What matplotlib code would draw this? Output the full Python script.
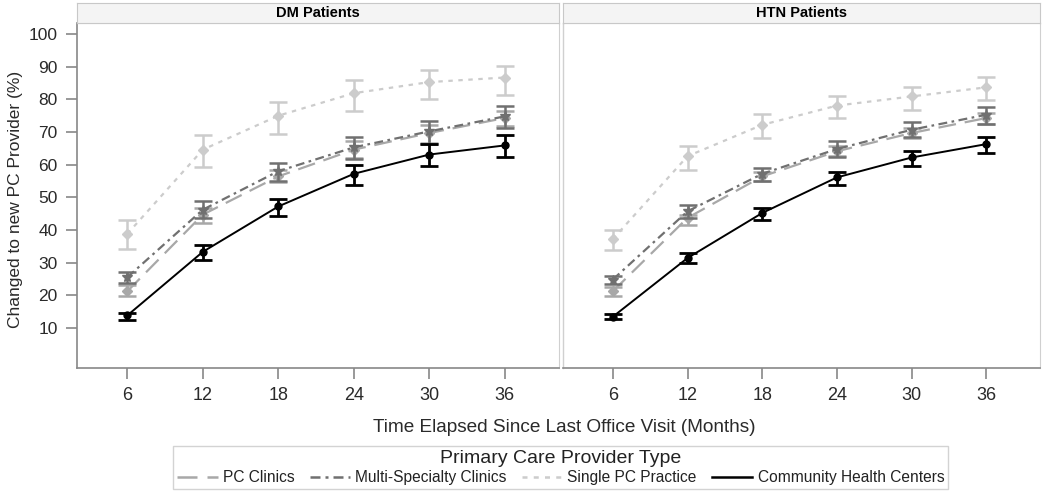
import numpy as np
import matplotlib.pyplot as plt
from matplotlib.lines import Line2D

# months since last visit
months = [6, 12, 18, 24, 30, 36]

# DM patients: estimate, lower, upper
dm_pc = [21.2, 44.7, 56.4, 64.6, 69.7, 74.3]
dm_pc_lo = [19.9, 42.1, 54.6, 62.0, 66.6, 71.7]
dm_pc_hi = [23.0, 46.7, 58.5, 67.1, 72.2, 76.3]
dm_multi = [25.5, 46.2, 58.0, 65.3, 70.2, 74.8]
dm_multi_lo = [23.6, 43.7, 54.9, 61.8, 66.4, 71.2]
dm_multi_hi = [27.1, 48.8, 60.5, 68.5, 73.3, 77.9]
dm_single = [38.8, 64.6, 75.0, 81.9, 85.3, 86.7]
dm_single_lo = [34.2, 59.2, 69.4, 76.4, 80.2, 81.3]
dm_single_hi = [42.9, 69.2, 79.3, 85.9, 89.1, 90.2]
dm_chc = [13.8, 33.3, 47.2, 57.2, 63.1, 65.9]
dm_chc_lo = [12.3, 30.7, 44.2, 53.7, 59.5, 62.3]
dm_chc_hi = [14.6, 35.5, 49.6, 60.0, 66.4, 69.2]

# HTN patients
htn_pc = [21.2, 43.7, 56.4, 64.1, 69.7, 74.3]
htn_pc_lo = [19.9, 41.6, 54.9, 62.8, 68.2, 72.6]
htn_pc_hi = [22.6, 44.7, 57.6, 65.6, 71.2, 75.8]
htn_multi = [24.8, 45.7, 57.2, 64.8, 70.7, 75.3]
htn_multi_lo = [23.3, 43.7, 54.9, 62.3, 68.5, 72.6]
htn_multi_hi = [26.0, 47.6, 59.0, 67.1, 73.1, 77.6]
htn_single = [37.2, 62.6, 72.2, 78.1, 80.9, 83.7]
htn_single_lo = [34.0, 58.5, 68.2, 74.3, 76.8, 79.7]
htn_single_hi = [40.1, 65.8, 75.5, 80.9, 83.8, 86.8]
htn_chc = [13.4, 31.4, 45.2, 56.1, 62.2, 66.3]
htn_chc_lo = [12.6, 29.9, 43.1, 53.9, 59.5, 63.6]
htn_chc_hi = [14.1, 32.8, 46.7, 57.9, 64.3, 68.5]

labels = ['PC Clinics', 'Multi-Specialty Clinics', 'Single PC Practice', 'Community Health Centers']
colors = ['#a8a8a8', '#707070', '#cccccc', '#000000']
styles = [(0, (8, 4)), (0, (4, 2, 1.2, 2)), (0, (2, 2.5)), '-']
markers = ['D', '*', 'D', 'o']

plt.rcParams['font.family'] = ['Liberation Sans', 'DejaVu Sans']

fig = plt.figure(figsize=(10.5, 4.93), dpi=100)
W, H = 1050.0, 493.0

panels = [
    ('DM Patients', 77, 559,
     [(dm_pc, dm_pc_lo, dm_pc_hi), (dm_multi, dm_multi_lo, dm_multi_hi),
      (dm_single, dm_single_lo, dm_single_hi), (dm_chc, dm_chc_lo, dm_chc_hi)]),
    ('HTN Patients', 563, 1040,
     [(htn_pc, htn_pc_lo, htn_pc_hi), (htn_multi, htn_multi_lo, htn_multi_hi),
      (htn_single, htn_single_lo, htn_single_hi), (htn_chc, htn_chc_lo, htn_chc_hi)]),
]

top, bottom = 23, 368
for k, (title, x0, x1, series) in enumerate(panels):
    ax = fig.add_axes([x0 / W, 1 - bottom / H, (x1 - x0) / W, (bottom - top) / H])
    # draw order: single, pc, multi, chc
    for i in [2, 0, 1, 3]:
        y, lo, hi = series[i]
        y = np.array(y)
        err = [y - np.array(lo), np.array(hi) - y]
        lw_err = 2.0 if i == 3 else 1.8
        ax.errorbar(months, y, yerr=err, color=colors[i], ecolor=colors[i],
                    elinewidth=lw_err, capsize=6.5, capthick=lw_err,
                    linestyle='none', zorder=2 + i)
        ax.plot(months, y, color=colors[i], linestyle=styles[i],
                linewidth=1.6 if i != 3 else 1.4,
                marker=markers[i], markersize=5 if markers[i] != '*' else 7,
                zorder=3 + i)
    ax.set_xlim(2, 40.3)
    ax.set_ylim(-2.3, 103.4)
    ax.set_xticks(months)
    ax.set_xticklabels([str(m) for m in months], fontsize=13, color='#2a2a2a')
    if k == 0:
        ax.set_yticks(range(10, 101, 10))
        ax.set_yticklabels([str(v) for v in range(10, 101, 10)], fontsize=12.5, color='#2a2a2a')
    else:
        ax.set_yticks([])
    for s in ['top', 'right']:
        ax.spines[s].set_color('#d0d0d0')
    for s in ['left', 'bottom']:
        ax.spines[s].set_color('#888888')
        ax.spines[s].set_linewidth(1.2)
    if k == 1:
        ax.spines['left'].set_color('#d0d0d0')
        ax.spines['left'].set_linewidth(1.0)
    ax.tick_params(axis='both', direction='out', length=8, width=1.2, color='#888888', pad=6)

    # strip
    sx = fig.add_axes([x0 / W, 1 - top / H, (x1 - x0) / W, 20 / H])
    sx.set_facecolor('#f4f4f4')
    sx.set_xticks([])
    sx.set_yticks([])
    for s in sx.spines.values():
        s.set_color('#c8c8c8')
    sx.text(0.5, 0.5, title, ha='center', va='center', fontsize=10.5, fontweight='bold',
            transform=sx.transAxes)

fig.text(0.537, 1 - 428 / H, 'Time Elapsed Since Last Office Visit (Months)',
         ha='center', va='center', fontsize=13.7, color='#2a2a2a')
fig.text(0.015, 1 - 199 / H, 'Changed to new PC Provider (%)', rotation=90,
         ha='center', va='center', fontsize=12.5, color='#2a2a2a')

handles = [Line2D([], [], color=colors[i], linestyle=styles[i], linewidth=1.8) for i in range(4)]
leg = fig.legend(handles, labels, loc='lower center', bbox_to_anchor=(0.534, -0.008),
                 ncol=4, title='Primary Care Provider Type', fontsize=11.2,
                 title_fontsize=14, frameon=True, fancybox=False, edgecolor='#c8c8c8',
                 handlelength=2.6, columnspacing=0.95, handletextpad=0.35,
                 borderpad=0.25, labelspacing=0.2)
for t in leg.get_texts():
    t.set_color('#222222')
leg.get_title().set_color('#222222')

fig.savefig('out.png', dpi=100)
